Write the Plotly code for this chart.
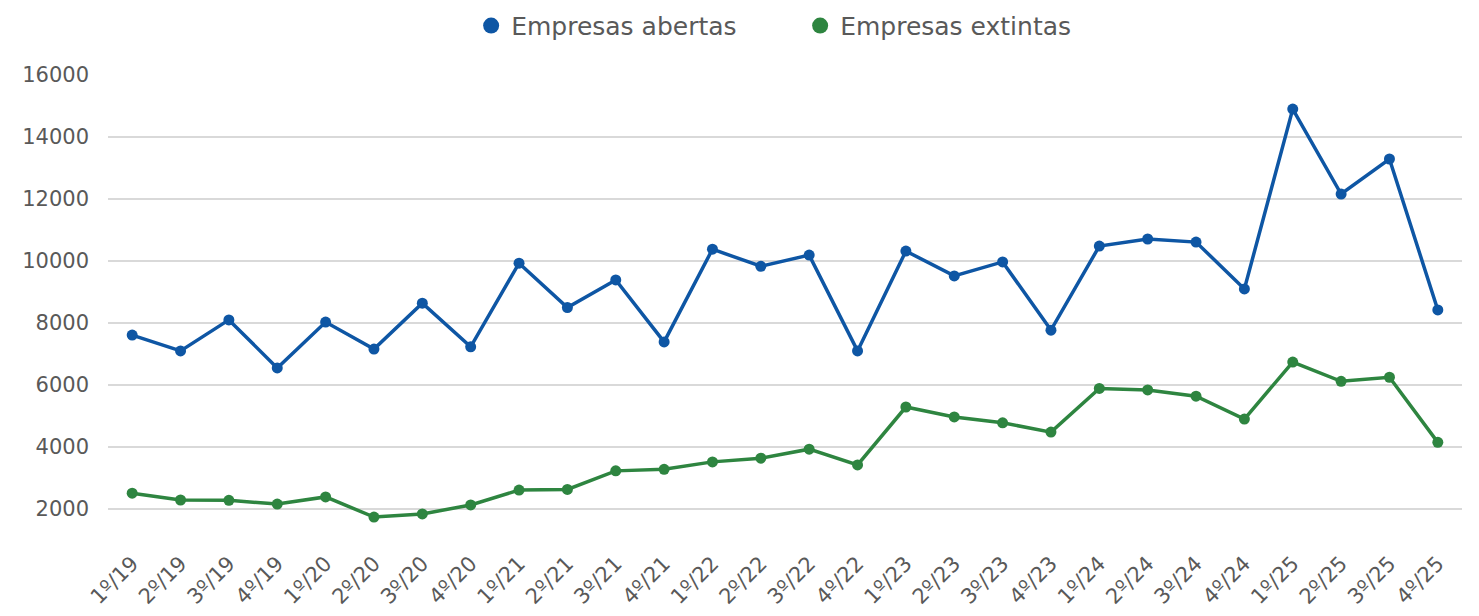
import plotly.graph_objects as go

quarters = ["1º/19","2º/19","3º/19","4º/19","1º/20","2º/20","3º/20","4º/20",
            "1º/21","2º/21","3º/21","4º/21","1º/22","2º/22","3º/22","4º/22",
            "1º/23","2º/23","3º/23","4º/23","1º/24","2º/24","3º/24","4º/24",
            "1º/25","2º/25","3º/25","4º/25"]
abertas = [7610,7100,8100,6550,8030,7160,8640,7230,
           9930,8500,9390,7390,10380,9830,10190,7100,
           10320,9520,9970,7770,10480,10710,10610,9100,
           14900,12160,13290,8420]
extintas = [2510,2290,2280,2160,2390,1740,1840,2130,
            2610,2630,3230,3280,3520,3640,3930,3420,
            5290,4970,4780,4480,5890,5840,5640,4900,
            6740,6120,6250,4150]
yticks = [2000,4000,6000,8000,10000,12000,14000,16000]
yticklabels = [str(v) for v in yticks]

BLUE = "#0E56A4"
GREEN = "#2E8540"
FONT = "DejaVu Sans"

fig = go.Figure()
fig.add_trace(go.Scatter(x=quarters, y=abertas, mode="lines+markers", name="Empresas abertas",
                         line=dict(color=BLUE, width=3.5), marker=dict(size=11, color=BLUE),
                         showlegend=False, hoverinfo="skip"))
fig.add_trace(go.Scatter(x=quarters, y=extintas, mode="lines+markers", name="Empresas extintas",
                         line=dict(color=GREEN, width=3.5), marker=dict(size=11, color=GREEN),
                         showlegend=False, hoverinfo="skip"))
# legend entries (marker only)
fig.add_trace(go.Scatter(x=[None], y=[None], mode="markers", name="Empresas abertas",
                         marker=dict(size=26, color=BLUE)))
fig.add_trace(go.Scatter(x=[None], y=[None], mode="markers", name="Empresas extintas",
                         marker=dict(size=26, color=GREEN)))

fig.update_layout(
    width=1479, height=616,
    margin=dict(l=108, r=17, t=75, b=76, autoexpand=False),
    paper_bgcolor="white", plot_bgcolor="white",
    font=dict(family=FONT, size=21, color="#595959"),
    legend=dict(orientation="h", x=0.541, xanchor="center", xref="container",
                y=0.958, yanchor="middle", yref="container",
                font=dict(size=25, color="#595959"), itemsizing="trace",
                traceorder="normal", entrywidth=284),
    xaxis=dict(type="category", range=[-0.5, len(quarters) - 0.5], tickangle=-45,
               showgrid=False, showline=False, ticks="", tickfont=dict(size=21),
               ticklabelstandoff=6),
    yaxis=dict(range=[1000, 16000], tickvals=yticks, ticktext=yticklabels,
               showgrid=True, gridcolor="#D9D9D9",
               gridwidth=2, zeroline=False, showline=False, ticks="",
               tickfont=dict(size=21), ticklabelstandoff=18),
)
fig.write_html("out.html", config={"displayModeBar": False},
               post_script="document.body.style.margin='0';")
